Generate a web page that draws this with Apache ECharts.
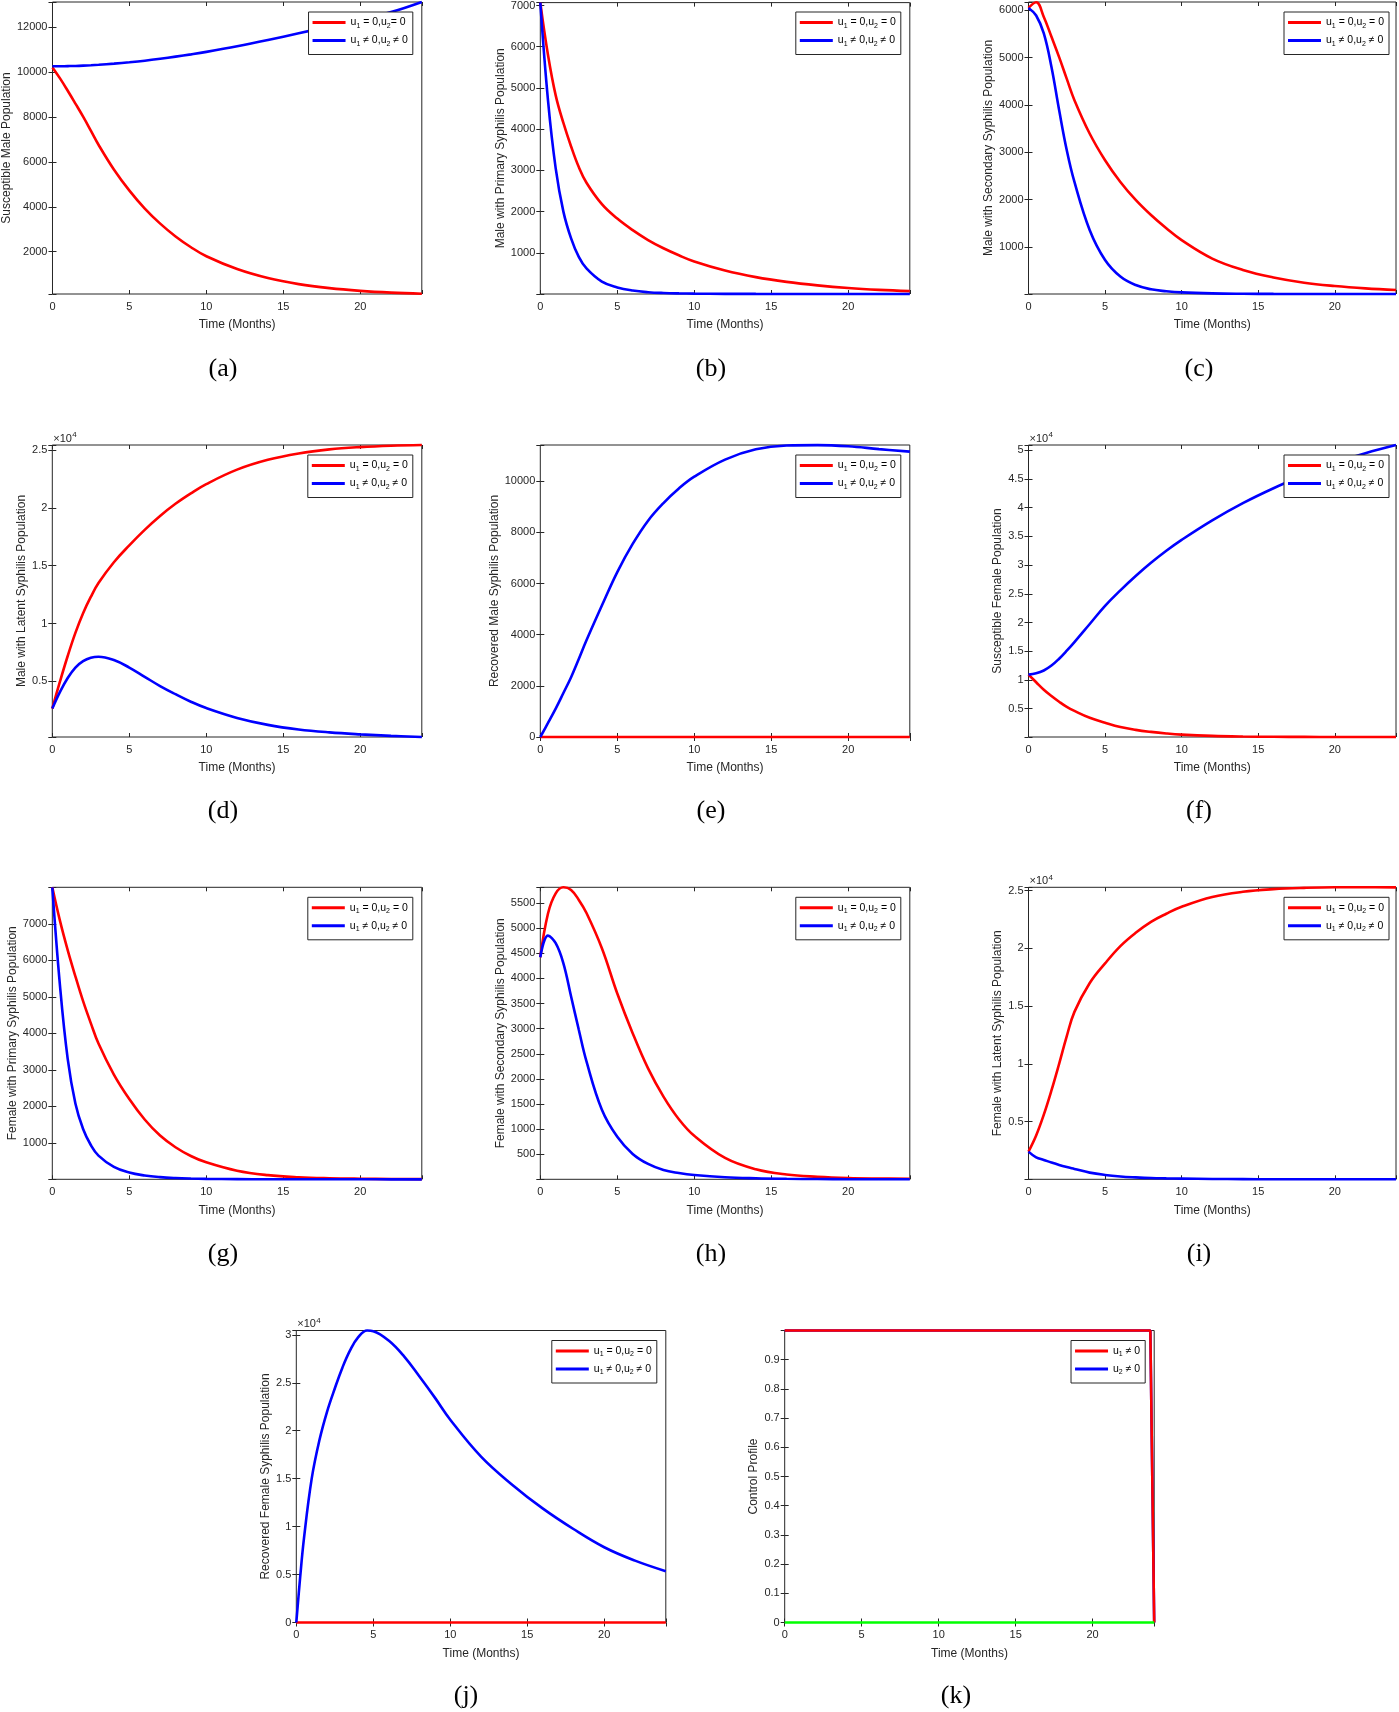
<!DOCTYPE html>
<html>
<head>
<meta charset="utf-8">
<title>Syphilis model - control simulations</title>
<script src="https://cdn.jsdelivr.net/npm/echarts@6/dist/echarts.min.js"></script>
<style>
html, body { margin: 0; padding: 0; background: #fff; }
#chart { width: 1399px; height: 1712px; }
</style>
</head>
<body>
<div id="chart"></div>
<script>
// ---- time grids (months) ----
var tMonths = [0, 0.5, 1, 1.5, 2, 2.5, 3, 4, 5, 6, 7, 8, 9, 10, 12, 14, 16, 18, 20, 22, 24];
var tRecFemale = [0, 0.25, 0.5, 1, 1.5, 2, 2.5, 3, 3.5, 4, 4.6, 5, 6, 7, 8, 9, 10, 12, 14, 16, 18, 20, 22, 24];
var tControl = [0, 23.75, 24];
var xTicks = [0, 5, 10, 15, 20];

// ---- (a) susceptible male ----
var susMaleNoCtrl = [10200, 9700, 9150, 8580, 8000, 7380, 6750, 5650, 4720, 3920, 3250, 2680, 2200, 1800, 1230, 830, 560, 380, 260, 180, 130];
var susMaleCtrl = [10250, 10252, 10258, 10266, 10280, 10298, 10320, 10370, 10430, 10500, 10585, 10680, 10780, 10890, 11140, 11420, 11720, 12020, 12330, 12660, 13110];
var yTicksA = [2000, 4000, 6000, 8000, 10000, 12000];

// ---- (b) male primary ----
var priMaleNoCtrl = [7070, 5800, 4820, 4150, 3580, 3080, 2700, 2180, 1830, 1550, 1310, 1110, 940, 790, 570, 410, 295, 210, 145, 100, 70];
var priMaleCtrl = [7070, 4700, 3050, 2000, 1350, 900, 620, 300, 160, 85, 45, 25, 15, 10, 5, 3, 2, 1, 1, 0, 0];
var yTicksB = [1000, 2000, 3000, 4000, 5000, 6000, 7000];

// ---- (c) male secondary ----
var secMaleNoCtrl = [6050, 6170, 5860, 5440, 5010, 4550, 4100, 3390, 2830, 2370, 1990, 1670, 1390, 1140, 750, 510, 350, 240, 170, 120, 85];
var secMaleCtrl = [6050, 5890, 5510, 4800, 3890, 3040, 2370, 1350, 720, 370, 190, 100, 60, 35, 14, 6, 3, 2, 1, 1, 0];
var yTicksC = [1000, 2000, 3000, 4000, 5000, 6000];

// ---- (d) male latent ----
var latMaleNoCtrl = [2660, 5000, 7200, 9200, 10900, 12300, 13500, 15300, 16760, 18100, 19300, 20350, 21250, 22050, 23300, 24150, 24700, 25050, 25250, 25370, 25430];
var latMaleCtrl = [2660, 4100, 5300, 6200, 6750, 7050, 7140, 6850, 6200, 5400, 4600, 3900, 3250, 2700, 1850, 1250, 850, 600, 430, 300, 200];
var yTicksD = [5000, 10000, 15000, 20000, 25000];

// ---- (e) recovered male ----
var recMaleNoCtrl = [0, 0, 0, 0, 0, 0, 0, 0, 0, 0, 0, 0, 0, 0, 0, 0, 0, 0, 0, 0, 0];
var recMaleCtrl = [0, 550, 1110, 1720, 2340, 3050, 3780, 5140, 6450, 7550, 8460, 9150, 9720, 10180, 10850, 11250, 11400, 11415, 11370, 11260, 11160];
var yTicksE = [0, 2000, 4000, 6000, 8000, 10000];

// ---- (f) susceptible female ----
var susFemNoCtrl = [10920, 9600, 8300, 7200, 6200, 5300, 4600, 3400, 2550, 1800, 1300, 950, 680, 480, 250, 140, 95, 75, 65, 60, 60];
var susFemCtrl = [10920, 11150, 11650, 12500, 13700, 15100, 16600, 19750, 22900, 25600, 28100, 30400, 32500, 34400, 37800, 40800, 43400, 45700, 47800, 49500, 50930];
var yTicksF = [5000, 10000, 15000, 20000, 25000, 30000, 35000, 40000, 45000, 50000];

// ---- (g) female primary ----
var priFemNoCtrl = [8000, 7080, 6280, 5560, 4880, 4280, 3720, 2870, 2200, 1640, 1200, 880, 640, 465, 235, 115, 57, 30, 17, 10, 6];
var priFemCtrl = [8000, 5300, 3300, 2080, 1380, 940, 650, 340, 185, 105, 60, 35, 21, 13, 6, 3, 2, 1, 1, 0, 0];
var yTicksG = [1000, 2000, 3000, 4000, 5000, 6000, 7000];

// ---- (h) female secondary ----
var secFemNoCtrl = [4420, 5290, 5690, 5812, 5760, 5560, 5300, 4600, 3700, 2910, 2210, 1650, 1200, 870, 430, 205, 100, 55, 30, 20, 15];
var secFemCtrl = [4420, 4850, 4700, 4300, 3640, 2980, 2350, 1390, 850, 510, 310, 190, 130, 90, 45, 25, 15, 10, 7, 6, 5];
var yTicksH = [500, 1000, 1500, 2000, 2500, 3000, 3500, 4000, 4500, 5000, 5500];

// ---- (i) female latent ----
var latFemNoCtrl = [2400, 3800, 5600, 7700, 10000, 12400, 14500, 17000, 18700, 20200, 21350, 22300, 23000, 23600, 24450, 24900, 25130, 25240, 25290, 25290, 25280];
var latFemCtrl = [2400, 1900, 1680, 1450, 1240, 1060, 900, 580, 380, 250, 170, 110, 80, 60, 30, 15, 8, 5, 3, 2, 1];
var yTicksI = [5000, 10000, 15000, 20000, 25000];

// ---- (j) recovered female ----
var recFemNoCtrl = [0, 0, 0, 0, 0, 0, 0, 0, 0, 0, 0, 0, 0, 0, 0, 0, 0, 0, 0, 0, 0, 0, 0, 0];
var recFemCtrl = [0, 4700, 8800, 15000, 19000, 22000, 24400, 26600, 28400, 29700, 30450, 30380, 29400, 27750, 25650, 23450, 21150, 17300, 14400, 11900, 9750, 7850, 6450, 5350];
var yTicksJ = [0, 5000, 10000, 15000, 20000, 25000, 30000];

// ---- (k) control profile ----
var controlU1 = [1, 1, 0];
var controlU2 = [1, 1, 0];
var controlBase = [0, 0, 0];
var yTicksK = [0, 0.1, 0.2, 0.3, 0.4, 0.5, 0.6, 0.7, 0.8, 0.9];

var RED = '#ff0000', BLUE = '#0000ff', GREEN = '#00ff00';
var AX = '#262626';
var FONT = '"Liberation Sans", Arial, Helvetica, sans-serif';
var W = 369.5, H = 292;

var legOffA = '{n|u}{s|1}{n| = 0,u}{s|2}{n|= 0}';
var legOff = '{n|u}{s|1}{n| = 0,u}{s|2}{n| = 0}';
var legOn = '{n|u}{s|1}{n| \u2260 0,u}{s|2}{n| \u2260 0}';

function pairs(t, v) {
    return t.map(function (x, k) { return [x, v[k]]; });
}
function onTick(v, ticks) {
    for (var k = 0; k < ticks.length; k++) {
        if (Math.abs(v - ticks[k]) < 1e-6 * (1 + Math.abs(ticks[k]))) return true;
    }
    return false;
}

var panels = [
    {id: 'a', left: 52.3, top: 2, yName: 'Susceptible Male Population', gap: 39, yMin: 120, yMax: 13110, ticks: yTicksA,
     lines: [{t: tMonths, v: susMaleNoCtrl, c: RED, label: legOffA}, {t: tMonths, v: susMaleCtrl, c: BLUE, label: legOn}], cap: '(a)', capX: 223, capY: 369},
    {id: 'b', left: 540.3, top: 2, yName: 'Male with Primary Syphilis Population', gap: 34, yMin: 1, yMax: 7070, ticks: yTicksB,
     lines: [{t: tMonths, v: priMaleNoCtrl, c: RED, label: legOff}, {t: tMonths, v: priMaleCtrl, c: BLUE, label: legOn}], cap: '(b)', capX: 711, capY: 369},
    {id: 'c', left: 1028.5, top: 2, yName: 'Male with Secondary Syphilis Population', gap: 34, yMin: 1, yMax: 6176, ticks: yTicksC,
     lines: [{t: tMonths, v: secMaleNoCtrl, c: RED, label: legOff}, {t: tMonths, v: secMaleCtrl, c: BLUE, label: legOn}], cap: '(c)', capX: 1199, capY: 369},
    {id: 'd', left: 52.3, top: 445, yName: 'Male with Latent Syphilis Population', gap: 24, yMin: 200, yMax: 25430, ticks: yTicksD, sci: true,
     lines: [{t: tMonths, v: latMaleNoCtrl, c: RED, label: legOff}, {t: tMonths, v: latMaleCtrl, c: BLUE, label: legOn}], cap: '(d)', capX: 223, capY: 811},
    {id: 'e', left: 540.3, top: 445, yName: 'Recovered Male Syphilis Population', gap: 39, yMin: 0, yMax: 11420, ticks: yTicksE,
     lines: [{t: tMonths, v: recMaleNoCtrl, c: RED, label: legOff}, {t: tMonths, v: recMaleCtrl, c: BLUE, label: legOn}], cap: '(e)', capX: 711, capY: 811},
    {id: 'f', left: 1028.5, top: 445, yName: 'Susceptible Female Population', gap: 25, yMin: 60, yMax: 50930, ticks: yTicksF, sci: true,
     lines: [{t: tMonths, v: susFemNoCtrl, c: RED, label: legOff}, {t: tMonths, v: susFemCtrl, c: BLUE, label: legOn}], cap: '(f)', capX: 1199, capY: 811},
    {id: 'g', left: 52.3, top: 887.3, yName: 'Female with Primary Syphilis Population', gap: 34, yMin: 1, yMax: 8000, ticks: yTicksG,
     lines: [{t: tMonths, v: priFemNoCtrl, c: RED, label: legOff}, {t: tMonths, v: priFemCtrl, c: BLUE, label: legOn}], cap: '(g)', capX: 223, capY: 1254},
    {id: 'h', left: 540.3, top: 887.3, yName: 'Female with Secondary Syphilis Population', gap: 34, yMin: 5, yMax: 5812, ticks: yTicksH,
     lines: [{t: tMonths, v: secFemNoCtrl, c: RED, label: legOff}, {t: tMonths, v: secFemCtrl, c: BLUE, label: legOn}], cap: '(h)', capX: 711, capY: 1254},
    {id: 'i', left: 1028.5, top: 887.3, yName: 'Female with Latent Syphilis Population', gap: 25, yMin: 1, yMax: 25290, ticks: yTicksI, sci: true,
     lines: [{t: tMonths, v: latFemNoCtrl, c: RED, label: legOff}, {t: tMonths, v: latFemCtrl, c: BLUE, label: legOn}], cap: '(i)', capX: 1199, capY: 1254},
    {id: 'j', left: 296.3, top: 1330.5, yName: 'Recovered Female Syphilis Population', gap: 23, yMin: 0, yMax: 30450, ticks: yTicksJ, sci: true,
     lines: [{t: tRecFemale, v: recFemNoCtrl, c: RED, label: legOff}, {t: tRecFemale, v: recFemCtrl, c: BLUE, label: legOn}], cap: '(j)', capX: 466, capY: 1696},
    {id: 'k', left: 784.7, top: 1330.5, yName: 'Control Profile', gap: 25, yMin: 0, yMax: 1, ticks: yTicksK, sharp: true, legendOrder: [1, 0],
     lines: [{t: tControl, v: controlU2, c: BLUE, label: '{n|u}{s|2}{n| \u2260 0}'}, {t: tControl, v: controlU1, c: RED, label: '{n|u}{s|1}{n| \u2260 0}'},
             {t: tControl, v: controlBase, c: GREEN}], cap: '(k)', capX: 956, capY: 1696}
];

var legendRich = {
    n: {fontSize: 10.5, fontFamily: FONT, color: '#000', lineHeight: 14},
    s: {fontSize: 7, fontFamily: FONT, color: '#000', lineHeight: 7, verticalAlign: 'bottom'}
};
var tickStyle = {show: true, inside: true, length: 4, lineStyle: {color: AX, width: 1}};

var option = {animation: false, backgroundColor: '#fff', grid: [], xAxis: [], yAxis: [], series: [], legend: [], graphic: {elements: []}};

panels.forEach(function (p, i) {
    var step = p.ticks[1] - p.ticks[0];
    option.grid.push({left: p.left, top: p.top, width: W, height: H, show: true, borderColor: AX, borderWidth: 1, backgroundColor: 'transparent'});

    var xBase = {type: 'value', gridIndex: i, min: 0, max: 24, minInterval: 5, maxInterval: 5, splitNumber: 5,
                 splitLine: {show: false}, axisLine: {show: false}, axisTick: tickStyle};
    option.xAxis.push(Object.assign({}, xBase, {
        position: 'bottom', name: 'Time (Months)', nameLocation: 'middle', nameGap: 25,
        nameTextStyle: {fontSize: 12, color: AX, fontFamily: FONT},
        axisLabel: {margin: 7, fontSize: 11, color: AX, fontFamily: FONT,
                    formatter: function (v) { return onTick(v, xTicks) ? String(v) : ''; }}
    }));
    option.xAxis.push(Object.assign({}, xBase, {position: 'top', axisLabel: {show: false}}));

    var yBase = {type: 'value', gridIndex: i, min: p.yMin, max: p.yMax, minInterval: step, maxInterval: step,
                 splitNumber: p.ticks.length, splitLine: {show: false}, axisLine: {show: false}, axisTick: tickStyle};
    option.yAxis.push(Object.assign({}, yBase, {
        position: 'left', name: p.yName, nameLocation: 'middle', nameGap: p.gap, nameRotate: 90,
        nameTextStyle: {fontSize: 12, color: AX, fontFamily: FONT},
        axisLabel: {margin: 5, fontSize: 11, color: AX, fontFamily: FONT,
                    formatter: function (v) {
                        if (!onTick(v, p.ticks)) return '';
                        return p.sci ? String(v / 10000) : String(v);
                    }}
    }));
    option.yAxis.push(Object.assign({}, yBase, {position: 'right', axisLabel: {show: false}}));

    var names = [], texts = {};
    p.lines.forEach(function (ln, k) {
        var name = p.id + '_' + k;
        option.series.push({
            type: 'line', name: name, xAxisIndex: 2 * i, yAxisIndex: 2 * i,
            data: pairs(ln.t, ln.v), symbol: 'none', showSymbol: false,
            smooth: p.sharp ? false : 0.4, clip: false,
            lineStyle: {color: ln.c, width: 2.6}, itemStyle: {color: ln.c}, z: 3 + k
        });
        if (ln.label) { names.push(name); texts[name] = ln.label; }
    });
    if (p.legendOrder) names = p.legendOrder.map(function (k) { return names[k]; });

    option.legend.push({
        orient: 'vertical', right: 1399 - (p.left + W - 9), top: p.top + 10,
        data: names, formatter: function (n) { return texts[n]; },
        icon: 'rect', itemWidth: 33, itemHeight: 3, itemGap: 5.5,
        padding: [5, 5, 7, 4], borderColor: AX, borderWidth: 1, backgroundColor: '#fff',
        selectedMode: false, textStyle: {rich: legendRich}, z: 10
    });

    option.graphic.elements.push({
        type: 'text', x: p.capX, y: p.capY, silent: true,
        style: {text: p.cap, font: '26px "Liberation Serif", serif', fill: '#000',
                align: 'center', verticalAlign: 'middle', textAlign: 'center', textVerticalAlign: 'middle'}
    });
    if (p.sci) {
        option.graphic.elements.push({
            type: 'text', x: p.left + 1, y: p.top - 1, silent: true,
            style: {text: '\u00d710', font: '11px ' + FONT, fill: AX, verticalAlign: 'bottom', textVerticalAlign: 'bottom'}
        });
        option.graphic.elements.push({
            type: 'text', x: p.left + 20, y: p.top - 14, silent: true,
            style: {text: '4', font: '8px ' + FONT, fill: AX, verticalAlign: 'top', textVerticalAlign: 'top'}
        });
    }
});

var chart = echarts.init(document.getElementById('chart'));
chart.setOption(option);
</script>
</body>
</html>
